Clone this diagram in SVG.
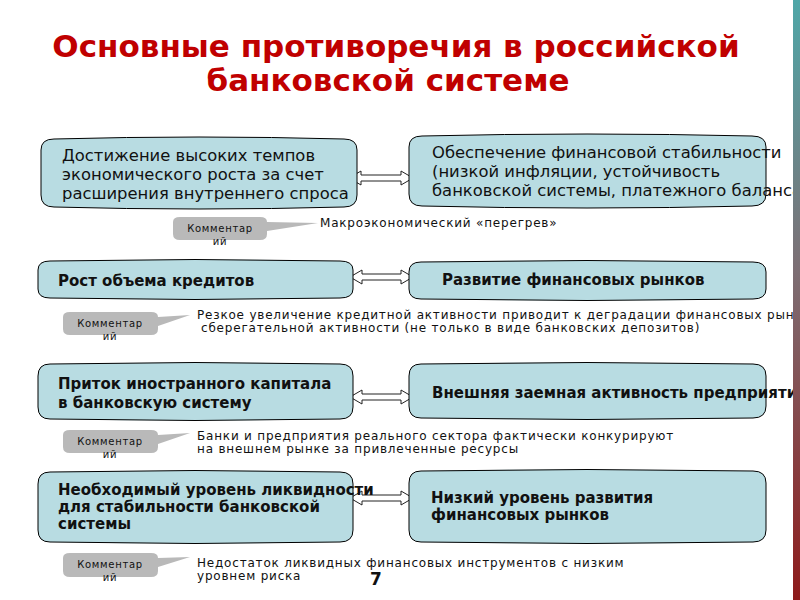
<svg xmlns="http://www.w3.org/2000/svg" width="800" height="600" viewBox="0 0 800 600">
<defs>
<linearGradient id="bar" x1="0" y1="0" x2="0" y2="1">
<stop offset="0" stop-color="#4fa7a8"/>
<stop offset="0.45" stop-color="#7d6f74"/>
<stop offset="1" stop-color="#8e1b1b"/>
</linearGradient>
<style>
.box{fill:#b8dce2;stroke:#000;stroke-width:1}
.bt{font-family:"DejaVu Sans",sans-serif;font-size:16.4px;fill:#111}
.bb{font-family:"DejaVu Sans",sans-serif;font-size:15px;font-weight:bold;fill:#111}
.arr{fill:#fff;stroke:#222;stroke-width:1}
.cb{fill:#b9b9b9}
.ct{font-family:"DejaVu Sans",sans-serif;font-size:10px;letter-spacing:0.7px;fill:#111;text-anchor:middle}
.cm{font-family:"DejaVu Sans",sans-serif;font-size:12px;letter-spacing:0.8px;fill:#111}
.title{font-family:"DejaVu Sans",sans-serif;font-size:31px;font-weight:bold;fill:#c00000;text-anchor:middle}
</style>
</defs>
<rect width="800" height="600" fill="#fff"/>
<g id="title">
<text class="title" x="396" y="57">Основные противоречия в российской</text>
<text class="title" x="388" y="91">банковской системе</text>
</g>

<g id="connectors">
<polygon class="arr" points="349,178 361,171 361,175 401,175 401,171 413,178 401,185 401,181 361,181 361,185"/>
<polygon class="arr" points="350,277 362,270 362,274 401,274 401,270 413,277 401,284 401,280 362,280 362,284"/>
<polygon class="arr" points="350,397 362,390 362,394 401,394 401,390 413,397 401,404 401,400 362,400 362,404"/>
<polygon class="arr" points="350,498 362,491 362,495 401,495 401,491 413,498 401,505 401,501 362,501 362,505"/>
</g>

<g id="n1a">
<path class="box" d="M41,150 Q41,139 54,139 Q199,135 344,139 Q357,139 357,150 L357,195 Q357,207 344,207 Q199,211 54,207 Q41,207 41,195 Z"/>
<text class="bt" x="62" y="161">Достижение высоких темпов</text>
<text class="bt" x="62" y="180">экономического роста за счет</text>
<text class="bt" x="62" y="199">расширения внутреннего спроса</text>
</g>
<g id="n1b">
<path class="box" d="M409,147 Q409,136 422,136 Q587,132 752,136 Q766,136 766,147 L766,194 Q766,206 752,206 Q587,210 422,206 Q409,206 409,194 Z"/>
<text class="bt" x="432" y="158">Обеспечение финансовой стабильности</text>
<text class="bt" x="432" y="177">(низкой инфляции, устойчивость</text>
<text class="bt" x="432" y="196">банковской системы, платежного баланса)</text>
</g>
<g id="c1">
<path class="cb" d="M180,217 L260,217 Q267,217 267,222 L318,223 L267,231 L267,234 Q267,240 260,240 L180,240 Q173,240 173,234 L173,222 Q173,217 180,217 Z"/>
<text class="ct" x="220" y="232">Комментар</text>
<text class="ct" x="220" y="245">ий</text>
<text class="cm" x="320" y="227">Макроэкономический «перегрев»</text>
</g>

<g id="n2a">
<path class="box" d="M38,270 Q38,261 50,261 Q195,258 340,261 Q353,261 353,270 L353,289 Q353,298 340,298 Q195,301 50,298 Q38,298 38,289 Z"/>
<text class="bb" x="58" y="286">Рост объема кредитов</text>
</g>
<g id="n2b">
<path class="box" d="M409,272 Q409,262 421,262 Q587,259 753,262 Q766,262 766,272 L766,289 Q766,299 753,299 Q587,302 421,299 Q409,299 409,289 Z"/>
<text class="bb" x="442" y="285">Развитие финансовых рынков</text>
</g>
<g id="c2">
<path class="cb" d="M70,312 L151,312 Q158,312 158,317 L190,315 L158,326 L158,329 Q158,335 151,335 L70,335 Q63,335 63,329 L63,317 Q63,312 70,312 Z"/>
<text class="ct" x="110" y="327">Комментар</text>
<text class="ct" x="110" y="340">ий</text>
<text class="cm" x="197" y="319">Резкое увеличение кредитной активности приводит к деградации финансовых рынков и</text>
<text class="cm" x="201" y="332">сберегательной активности (не только в виде банковских депозитов)</text>
</g>

<g id="n3a">
<path class="box" d="M38,376 Q38,364 50,364 Q195,361 340,364 Q353,364 353,376 L353,407 Q353,419 340,419 Q195,422 50,419 Q38,419 38,407 Z"/>
<text class="bb" x="58" y="389">Приток иностранного капитала</text>
<text class="bb" x="58" y="408">в банковскую систему</text>
</g>
<g id="n3b">
<path class="box" d="M409,376 Q409,364 421,364 Q587,361 753,364 Q766,364 766,376 L766,406 Q766,418 753,418 Q587,421 421,418 Q409,418 409,406 Z"/>
<text class="bb" x="432" y="398">Внешняя заемная активность предприятий</text>
</g>
<g id="c3">
<path class="cb" d="M70,430 L151,430 Q158,430 158,435 L190,433 L158,444 L158,447 Q158,453 151,453 L70,453 Q63,453 63,447 L63,435 Q63,430 70,430 Z"/>
<text class="ct" x="110" y="445">Комментар</text>
<text class="ct" x="110" y="458">ий</text>
<text class="cm" x="197" y="440">Банки и предприятия реального сектора фактически конкурируют</text>
<text class="cm" x="197" y="453">на внешнем рынке за привлеченные ресурсы</text>
</g>

<g id="n4a">
<path class="box" d="M38,484 Q38,472 50,472 Q195,469 340,472 Q353,472 353,484 L353,530 Q353,542 340,542 Q195,545 50,542 Q38,542 38,530 Z"/>
<text class="bb" x="58" y="495">Необходимый уровень ликвидности</text>
<text class="bb" x="58" y="512">для стабильности банковской</text>
<text class="bb" x="58" y="529">системы</text>
</g>
<g id="n4b">
<path class="box" d="M409,483 Q409,471 421,471 Q587,468 753,471 Q766,471 766,483 L766,530 Q766,542 753,542 Q587,545 421,542 Q409,542 409,530 Z"/>
<text class="bb" x="431" y="503">Низкий уровень развития</text>
<text class="bb" x="431" y="520">финансовых рынков</text>
</g>
<g id="c4">
<path class="cb" d="M70,553 L151,553 Q158,553 158,558 L190,557 L158,567 L158,571 Q158,577 151,577 L70,577 Q63,577 63,571 L63,558 Q63,553 70,553 Z"/>
<text class="ct" x="110" y="568">Комментар</text>
<text class="ct" x="110" y="581">ий</text>
<text class="cm" x="197" y="567">Недостаток ликвидных финансовых инструментов с низким</text>
<text class="cm" x="197" y="580">уровнем риска</text>
</g>
<text x="376" y="585" font-family="DejaVu Sans, sans-serif" font-size="17" font-weight="bold" text-anchor="middle" fill="#111">7</text>
<rect x="793" y="0" width="7" height="600" fill="url(#bar)"/>
</svg>
